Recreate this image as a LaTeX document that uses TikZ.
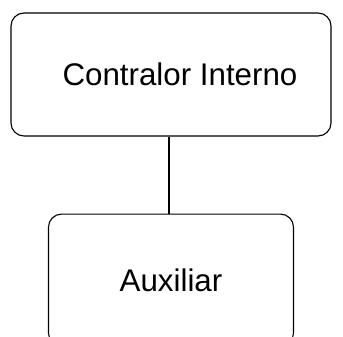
\documentclass[tikz,border=0pt]{standalone}
\usepackage{fontspec}
\setmainfont{Liberation Sans}
\usetikzlibrary{positioning}

\begin{document}
\begin{tikzpicture}[
  x=1pt, y=-1pt,
  font=\fontsize{31.3}{37}\selectfont,
  cargo/.style={draw=black, line width=1.1pt, rounded corners=13pt, fill=white,
                align=center, inner sep=0pt},
  enlace/.style={line width=1.1pt, draw=black},
]

% ---- Marco del dibujo ----
\useasboundingbox (0,0) rectangle (343,337);
\clip (0,0) rectangle (343,337);

% ---- Cargos ----
\node[cargo, minimum width=320pt, minimum height=123pt] (contralor) at (171,74.5) {\hspace*{18pt}Contralor Interno};
\node[cargo, minimum width=245pt, minimum height=132pt, below=77pt of contralor] (auxiliar) {Auxiliar};

% ---- Dependencia ----
\draw[enlace] ([xshift=-2pt]contralor.south) -- ([xshift=-2pt]contralor.south |- auxiliar.north);

\end{tikzpicture}
\end{document}
